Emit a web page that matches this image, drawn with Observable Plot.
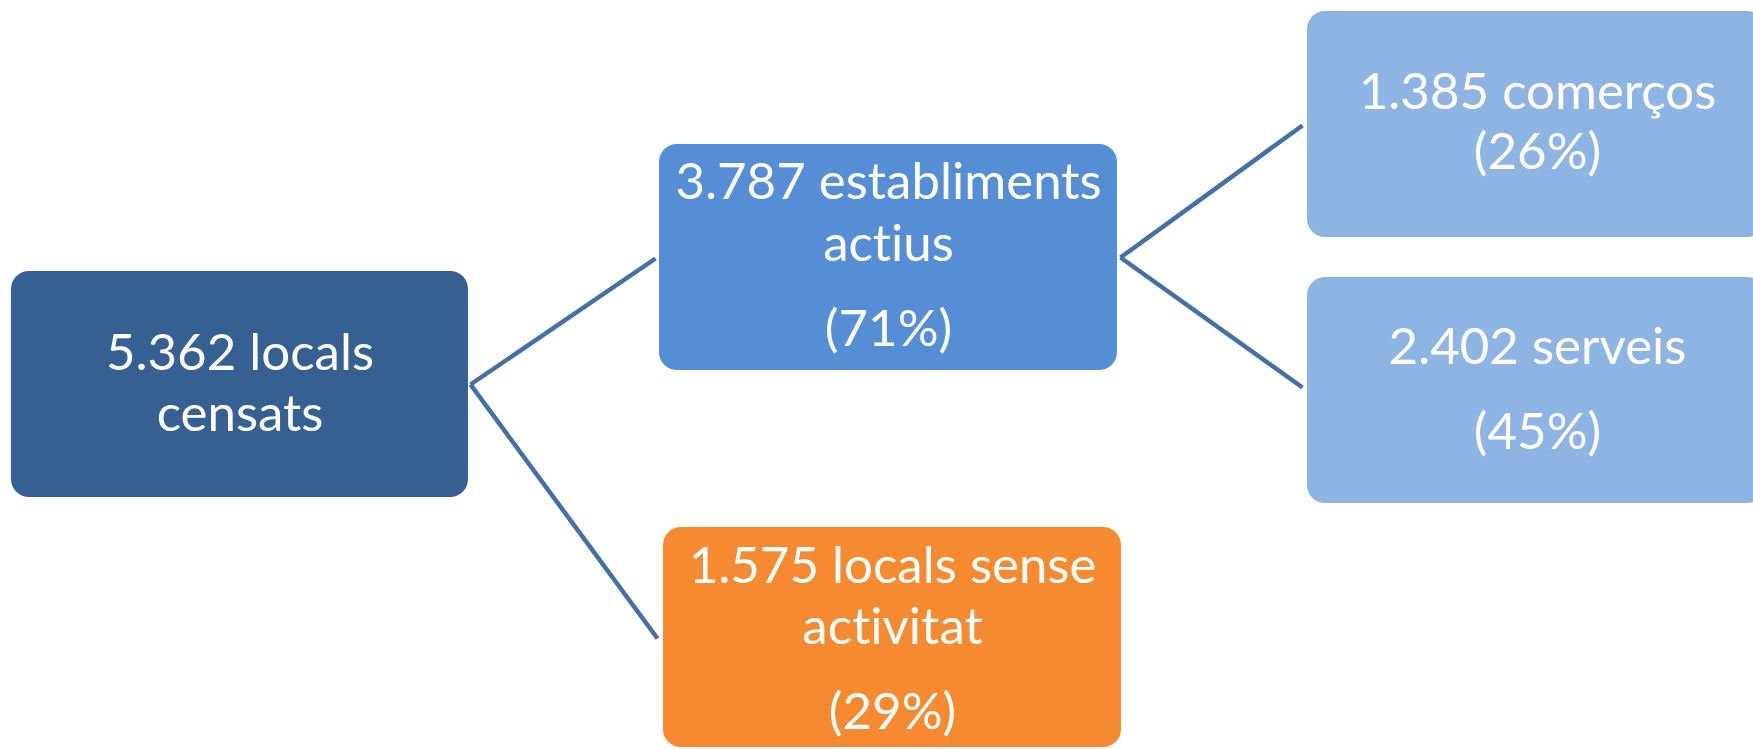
<!DOCTYPE html>
<html>
<head>
<meta charset="utf-8">
<script src="https://cdn.jsdelivr.net/npm/d3@7"></script>
<script src="https://cdn.jsdelivr.net/npm/@observablehq/plot@0.6"></script>
<style>
  html, body { margin: 0; padding: 0; background: #fff; }
  #chart svg { display: block; }
  #chart svg text { font-variant-ligatures: none; font-feature-settings: "liga" 0, "clig" 0; }
</style>
</head>
<body>
<div id="chart"></div>
<script>
// ---- data ----
const nodes  = ["total", "actius", "comercos", "serveis", "sense"];
const parents = [null, "total", "actius", "actius", "total"];
const values = [5362, 3787, 1385, 2402, 1575];
const shares = [null, 71, 26, 45, 29];
const labelA = ["locals", "establiments", "comerços", "serveis", "locals sense"];
const labelB = ["censats", "actius", null, null, "activitat"];

// ---- layout (pixel space of the diagram) ----
const W = 1753, H = 749;
const boxes = {
  total:    {x1: 11,   x2: 468,  y1: 271, y2: 497, fill: "#366092", base: [369, 430]},
  actius:   {x1: 659,  x2: 1117, y1: 144, y2: 370, fill: "#558ED5", base: [198, 260, 345]},
  comercos: {x1: 1307, x2: 1765, y1: 11,  y2: 237, fill: "#8EB4E3", base: [108, 168]},
  serveis:  {x1: 1307, x2: 1765, y1: 277, y2: 503, fill: "#8EB4E3", base: [363, 448]},
  sense:    {x1: 663,  x2: 1121, y1: 527, y2: 747, fill: "#F58A30", base: [582, 643, 728]}
};
const outAnchor = {total: [470, 384], actius: [1120, 257]};
const inAnchor  = {actius: [655, 258], sense: [657, 638], comercos: [1302, 125], serveis: [1302, 387]};

const fmt = v => d3.format(",")(v).replace(/,/g, ".");
const FS = 51;

const rects = nodes.map(n => ({node: n, ...boxes[n]}));
const links = nodes.map((n, i) => ({n, p: parents[i]})).filter(d => d.p)
  .map(d => ({x1: outAnchor[d.p][0], y1: outAnchor[d.p][1], x2: inAnchor[d.n][0], y2: inAnchor[d.n][1]}));

const lines = [];
nodes.forEach((n, i) => {
  const b = boxes[n];
  const txt = [fmt(values[i]) + " " + labelA[i]];
  if (labelB[i]) txt.push(labelB[i]);
  if (shares[i] != null) txt.push("(" + shares[i] + "%)");
  const cx = (n === "comercos" || n === "serveis") ? 1537 : (b.x1 + b.x2) / 2;
  txt.forEach((t, k) => lines.push({x: cx, y: b.base[k] - 0.32 * FS, text: t}));
});

const chart = Plot.plot({
  width: W, height: H,
  margin: 0,
  x: {domain: [0, W], range: [0, W], axis: null},
  y: {domain: [0, H], range: [0, H], axis: null},
  color: {type: "identity"},
  style: {background: "white"},
  marks: [
    Plot.link(links, {x1: "x1", y1: "y1", x2: "x2", y2: "y2", stroke: "#4470A8", strokeWidth: 4.5}),
    Plot.rect(rects, {x1: "x1", x2: "x2", y1: "y1", y2: "y2", fill: "fill", rx: 18, ry: 18}),
    Plot.text(lines, {x: "x", y: "y", text: "text", fill: "white", fontSize: FS,
      fontFamily: "Lato, 'Open Sans', sans-serif", textAnchor: "middle", lineAnchor: "middle"})
  ]
});
document.getElementById("chart").append(chart);
</script>
</body>
</html>
